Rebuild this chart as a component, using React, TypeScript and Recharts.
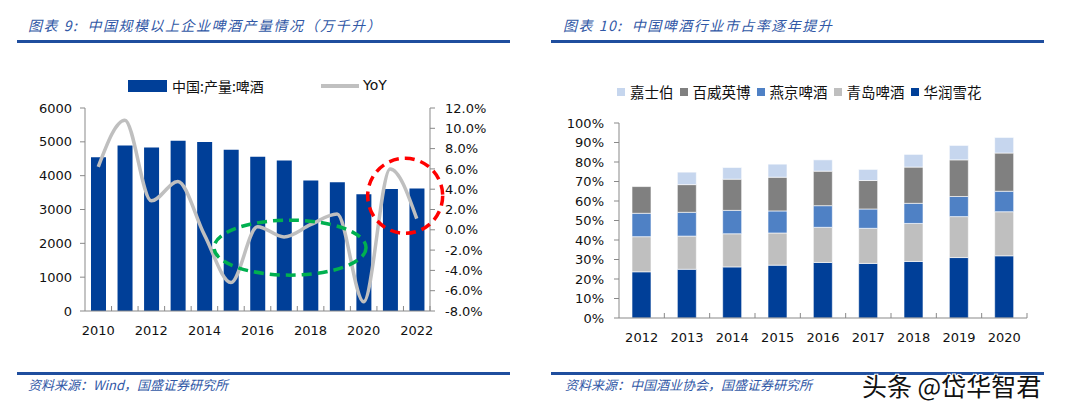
import React from "react";
import {
  ComposedChart,
  BarChart,
  Bar,
  Line,
  XAxis,
  YAxis,
  ReferenceDot,
} from "recharts";

// ---------- Chart 9 data ----------
const years9 = ["2010", "2011", "2012", "2013", "2014", "2015", "2016", "2017", "2018", "2019", "2020", "2021", "2022"];
const output9 = [4547, 4893, 4834, 5031, 4992, 4764, 4557, 4448, 3855, 3806, 3450, 3608, 3618];
const yoy9 = [6.2, 10.8, 2.85, 4.75, -0.5, -5.2, 0.3, -0.7, 0.5, 1.55, -7.1, 6.0, 1.1];
const leftTicks9 = [0, 1000, 2000, 3000, 4000, 5000, 6000];
const rightTicks9 = [-8, -6, -4, -2, 0, 2, 4, 6, 8, 10, 12];
const seriesNames9 = ["中国:产量:啤酒", "YoY"];

// ---------- Chart 10 data ----------
const years10 = ["2012", "2013", "2014", "2015", "2016", "2017", "2018", "2019", "2020"];
const huarun = [23.7, 25.0, 26.2, 27.1, 28.5, 28.0, 29.0, 31.0, 31.9];
const qingdao = [18.0, 17.0, 17.0, 16.5, 18.0, 18.0, 19.5, 21.0, 22.6];
const yanjing = [12.0, 12.2, 12.0, 11.3, 11.1, 9.9, 10.3, 10.3, 10.5];
const baiwei = [13.7, 14.2, 16.0, 17.3, 17.7, 14.6, 18.6, 18.8, 19.6];
const jiashibo = [0, 6.4, 6.0, 6.7, 5.8, 5.7, 6.5, 7.4, 8.0];
const ticks10 = [0, 10, 20, 30, 40, 50, 60, 70, 80, 90, 100];
const brands10 = ["华润雪花", "青岛啤酒", "燕京啤酒", "百威英博", "嘉士伯"];
const brandColors10 = ["#003F98", "#BFBFBF", "#4F81C5", "#808080", "#C6D6EE"];

const data9 = years9.map((y, i) => ({ year: y, output: output9[i], yoy: yoy9[i] }));
const data10 = years10.map((y, i) => ({
  year: y,
  [brands10[0]]: huarun[i],
  [brands10[1]]: qingdao[i],
  [brands10[2]]: yanjing[i],
  [brands10[3]]: baiwei[i],
  [brands10[4]]: jiashibo[i],
}));

const AXIS = "#898989";
const TICK_FONT = "'DejaVu Sans', Verdana, sans-serif";
const CJK = "'Noto Sans CJK SC', sans-serif";
const BLUE_TEXT = "#3158A6";
const BLUE_LINE = "#1F4E9E";

function makeXTick(band: number, showLabel: (i: number) => boolean) {
  return (props: any) => {
    const { x, y, payload, index } = props;
    const half = payload && typeof payload.offset === "number" && payload.offset > 0 ? payload.offset : band / 2;
    return (
      <g>
        <line x1={x + half} x2={x + half} y1={y} y2={y - 5} stroke={AXIS} strokeWidth={1} />
        {showLabel(index) && (
          <text x={x} y={y + 24} textAnchor="middle" fontFamily={TICK_FONT} fontSize={13} fill="#111">
            {payload.value}
          </text>
        )}
      </g>
    );
  };
}

const ellipseShape = (dx: number, rx: number, ry: number, color: string) => (props: any) => {
  const { cx, cy } = props;
  if (cx == null || cy == null) return <g />;
  return (
    <ellipse
      cx={cx + dx}
      cy={cy}
      rx={rx}
      ry={ry}
      fill="none"
      stroke={color}
      strokeWidth={3.5}
      strokeDasharray="10 6"
    />
  );
};

const tickStyle = { fontFamily: TICK_FONT, fontSize: 13, fill: "#111" };

export default function App() {
  const band9 = 345 / years9.length;
  const band10 = 408 / years10.length;
  return (
    <div style={{ position: "absolute", left: 0, top: 0, width: 1080, height: 413, background: "#fff", overflow: "hidden" }}>
      {/* Titles */}
      <div style={{ position: "absolute", left: 28, top: 15, fontFamily: CJK, fontStyle: "italic", fontSize: 14, color: BLUE_TEXT, letterSpacing: 1.5, whiteSpace: "pre" }}>
        {"图表 9:  中国规模以上企业啤酒产量情况（万千升）"}
      </div>
      <div style={{ position: "absolute", left: 17, top: 40, width: 493, height: 3, background: BLUE_LINE }} />
      <div style={{ position: "absolute", left: 563, top: 15, fontFamily: CJK, fontStyle: "italic", fontSize: 14, color: BLUE_TEXT, letterSpacing: 1.5, whiteSpace: "pre" }}>
        {"图表 10:  中国啤酒行业市占率逐年提升"}
      </div>
      <div style={{ position: "absolute", left: 551, top: 40, width: 493, height: 3, background: BLUE_LINE }} />

      {/* Left legend */}
      <div style={{ position: "absolute", left: 128, top: 80, width: 39, height: 12, background: "#003F98" }} />
      <div style={{ position: "absolute", left: 172, top: 76, fontFamily: CJK, fontSize: 14, color: "#111", whiteSpace: "nowrap" }}>
        {seriesNames9[0]}
      </div>
      <div style={{ position: "absolute", left: 321, top: 84, width: 38, height: 4, background: "#C0C0C0" }} />
      <div style={{ position: "absolute", left: 363, top: 77, fontFamily: TICK_FONT, fontSize: 14, color: "#111" }}>
        {seriesNames9[1]}
      </div>

      {/* Right legend */}
      <div style={{ position: "absolute", left: 617, top: 82, display: "flex", alignItems: "center", whiteSpace: "nowrap" }}>
        {brands10
          .map((b, i) => ({ b, c: brandColors10[i] }))
          .reverse()
          .map(({ b, c }) => (
            <div key={b} style={{ display: "flex", alignItems: "center", marginRight: 6 }}>
              <div style={{ width: 8, height: 8, background: c, marginRight: 5 }} />
              <span style={{ fontFamily: CJK, fontSize: 14.5, color: "#111", lineHeight: "20px" }}>{b}</span>
            </div>
          ))}
      </div>

      {/* Left chart */}
      <div style={{ position: "absolute", left: 0, top: 0 }}>
        <ComposedChart width={540} height={345} data={data9} margin={{ top: 108, right: 0, bottom: 0, left: 0 }} barSize={15}>
          <XAxis
            dataKey="year"
            xAxisId="x"
            height={34}
            interval={0}
            axisLine={{ stroke: AXIS }}
            tickLine={false}
            tickSize={0}
            tickMargin={0}
            tick={makeXTick(band9, (i) => i % 2 === 0)}
          />
          <YAxis
            yAxisId="left"
            width={85}
            domain={[0, 6000]}
            ticks={leftTicks9}
            interval={0}
            axisLine={{ stroke: AXIS }}
            tickLine={{ stroke: AXIS }}
            tickSize={5}
            tickMargin={8}
            tick={tickStyle}
          />
          <YAxis
            yAxisId="right"
            orientation="right"
            width={110}
            domain={[-8, 12]}
            ticks={rightTicks9}
            interval={0}
            axisLine={{ stroke: AXIS }}
            tickLine={{ stroke: AXIS }}
            tickSize={5}
            tickMargin={10}
            tick={tickStyle}
            tickFormatter={(v: number) => `${v.toFixed(1)}%`}
          />
          <Bar xAxisId="x" yAxisId="left" dataKey="output" name={seriesNames9[0]} fill="#003F98" isAnimationActive={false} />
          <Line
            xAxisId="x"
            yAxisId="right"
            dataKey="yoy"
            name={seriesNames9[1]}
            type="monotone"
            stroke="#BFBFBF"
            strokeWidth={3.5}
            dot={false}
            activeDot={false}
            isAnimationActive={false}
          />
          <ReferenceDot xAxisId="x" yAxisId="right" x="2017" y={-1.76} shape={ellipseShape(6, 76, 27.5, "#00B050")} />
          <ReferenceDot xAxisId="x" yAxisId="right" x="2021" y={3.35} shape={ellipseShape(15, 37.5, 37.5, "#FF0000")} />
        </ComposedChart>
      </div>

      {/* Right chart */}
      <div style={{ position: "absolute", left: 540, top: 0 }}>
        <BarChart width={540} height={348} data={data10} margin={{ top: 123, right: 53, bottom: 0, left: 0 }} barSize={19}>
          <XAxis
            dataKey="year"
            height={30}
            interval={0}
            axisLine={{ stroke: AXIS }}
            tickLine={false}
            tickSize={0}
            tickMargin={0}
            tick={makeXTick(band10, () => true)}
          />
          <YAxis
            width={79}
            domain={[0, 100]}
            ticks={ticks10}
            interval={0}
            axisLine={{ stroke: AXIS }}
            tickLine={{ stroke: AXIS }}
            tickSize={5}
            tickMargin={10}
            tick={tickStyle}
            tickFormatter={(v: number) => `${v}%`}
          />
          {brands10.map((b, i) => (
            <Bar key={b} dataKey={b} stackId="a" fill={brandColors10[i]} stroke="#fff" strokeWidth={0.6} isAnimationActive={false} />
          ))}
        </BarChart>
      </div>

      {/* Sources */}
      <div style={{ position: "absolute", left: 17, top: 372, width: 493, height: 3, background: BLUE_LINE }} />
      <div style={{ position: "absolute", left: 28, top: 375, fontFamily: CJK, fontStyle: "italic", fontSize: 13, color: BLUE_TEXT, whiteSpace: "nowrap" }}>
        资料来源：Wind，国盛证券研究所
      </div>
      <div style={{ position: "absolute", left: 551, top: 372, width: 493, height: 3, background: BLUE_LINE }} />
      <div style={{ position: "absolute", left: 565, top: 375, fontFamily: CJK, fontStyle: "italic", fontSize: 13, color: BLUE_TEXT, whiteSpace: "nowrap" }}>
        资料来源：中国酒业协会，国盛证券研究所
      </div>
      <div
        style={{
          position: "absolute",
          left: 862,
          top: 367,
          fontFamily: CJK,
          fontSize: 25,
          color: "#111",
          whiteSpace: "nowrap",
          textShadow: "1px 1px 0 #fff, -1px -1px 0 #fff, 1px -1px 0 #fff, -1px 1px 0 #fff",
        }}
      >
        头条 @岱华智君
      </div>
    </div>
  );
}
